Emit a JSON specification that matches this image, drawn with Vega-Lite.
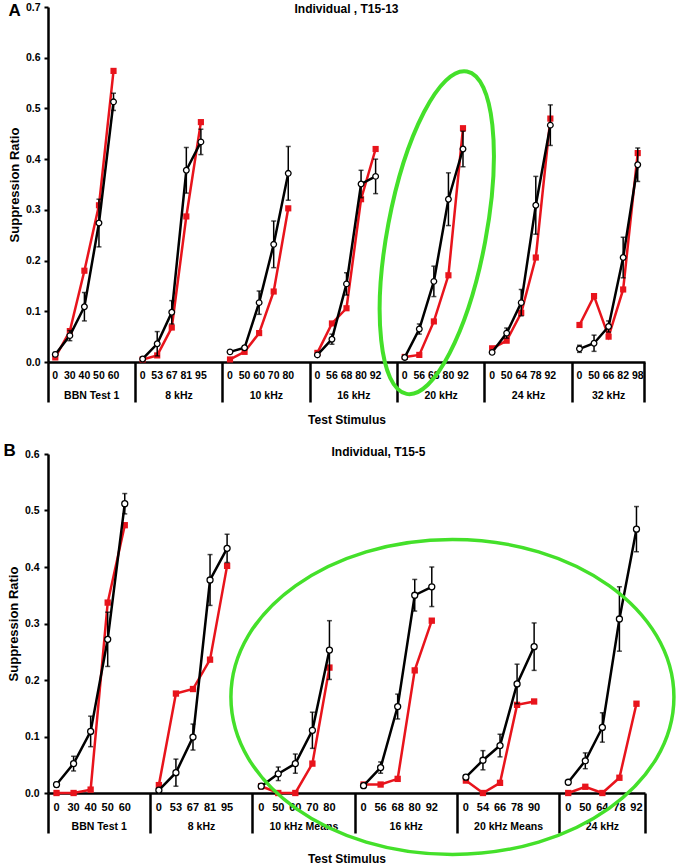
{
"$schema": "https://vega.github.io/schema/vega-lite/v6.json",
"background": "white",
"padding": {"left": 3, "top": 1, "right": 0, "bottom": 0},
"config": {"view": {"stroke": null}, "font": "Liberation Sans", "axis": {"labelFont": "Liberation Sans", "titleFont": "Liberation Sans", "grid": false}, "title": {"font": "Liberation Sans", "color": "black"}, "text": {"font": "Liberation Sans"}},
"datasets": {
"A": [
{"g":"BBN Test 1","lv":0,"s":"Group","v":0.015,"e":0.004},
{"g":"BBN Test 1","lv":30,"s":"Group","v":0.052,"e":0.01},
{"g":"BBN Test 1","lv":40,"s":"Group","v":0.109,"e":0.028},
{"g":"BBN Test 1","lv":50,"s":"Group","v":0.274,"e":0.047},
{"g":"BBN Test 1","lv":60,"s":"Group","v":0.513,"e":0.017},
{"g":"BBN Test 1","lv":0,"s":"Individual","v":0.009},
{"g":"BBN Test 1","lv":30,"s":"Individual","v":0.061},
{"g":"BBN Test 1","lv":40,"s":"Individual","v":0.18},
{"g":"BBN Test 1","lv":50,"s":"Individual","v":0.309},
{"g":"BBN Test 1","lv":60,"s":"Individual","v":0.574},
{"g":"8 kHz","lv":0,"s":"Group","v":0.006,"e":0.003},
{"g":"8 kHz","lv":53,"s":"Group","v":0.036,"e":0.024},
{"g":"8 kHz","lv":67,"s":"Group","v":0.098,"e":0.023},
{"g":"8 kHz","lv":81,"s":"Group","v":0.378,"e":0.045},
{"g":"8 kHz","lv":95,"s":"Group","v":0.434,"e":0.025},
{"g":"8 kHz","lv":0,"s":"Individual","v":0.005},
{"g":"8 kHz","lv":53,"s":"Individual","v":0.013},
{"g":"8 kHz","lv":67,"s":"Individual","v":0.068},
{"g":"8 kHz","lv":81,"s":"Individual","v":0.287},
{"g":"8 kHz","lv":95,"s":"Individual","v":0.473},
{"g":"10 kHz","lv":0,"s":"Group","v":0.02,"e":0.003},
{"g":"10 kHz","lv":50,"s":"Group","v":0.028,"e":0.004},
{"g":"10 kHz","lv":60,"s":"Group","v":0.117,"e":0.023},
{"g":"10 kHz","lv":70,"s":"Group","v":0.232,"e":0.046},
{"g":"10 kHz","lv":80,"s":"Group","v":0.372,"e":0.053},
{"g":"10 kHz","lv":0,"s":"Individual","v":0.005},
{"g":"10 kHz","lv":50,"s":"Individual","v":0.02},
{"g":"10 kHz","lv":60,"s":"Individual","v":0.057},
{"g":"10 kHz","lv":70,"s":"Individual","v":0.139},
{"g":"10 kHz","lv":80,"s":"Individual","v":0.303},
{"g":"16 kHz","lv":0,"s":"Group","v":0.014,"e":0.003},
{"g":"16 kHz","lv":56,"s":"Group","v":0.045,"e":0.01},
{"g":"16 kHz","lv":68,"s":"Group","v":0.154,"e":0.022},
{"g":"16 kHz","lv":80,"s":"Group","v":0.351,"e":0.027},
{"g":"16 kHz","lv":92,"s":"Group","v":0.366,"e":0.034},
{"g":"16 kHz","lv":0,"s":"Individual","v":0.018},
{"g":"16 kHz","lv":56,"s":"Individual","v":0.076},
{"g":"16 kHz","lv":68,"s":"Individual","v":0.106},
{"g":"16 kHz","lv":80,"s":"Individual","v":0.321},
{"g":"16 kHz","lv":92,"s":"Individual","v":0.42},
{"g":"20 kHz","lv":0,"s":"Group","v":0.009,"e":0.003},
{"g":"20 kHz","lv":56,"s":"Group","v":0.065,"e":0.01},
{"g":"20 kHz","lv":68,"s":"Group","v":0.159,"e":0.03},
{"g":"20 kHz","lv":80,"s":"Group","v":0.321,"e":0.052},
{"g":"20 kHz","lv":92,"s":"Group","v":0.42,"e":0.035},
{"g":"20 kHz","lv":0,"s":"Individual","v":0.01},
{"g":"20 kHz","lv":56,"s":"Individual","v":0.014},
{"g":"20 kHz","lv":68,"s":"Individual","v":0.08},
{"g":"20 kHz","lv":80,"s":"Individual","v":0.171},
{"g":"20 kHz","lv":92,"s":"Individual","v":0.461},
{"g":"24 kHz","lv":0,"s":"Group","v":0.019,"e":0.003},
{"g":"24 kHz","lv":50,"s":"Group","v":0.057,"e":0.01},
{"g":"24 kHz","lv":64,"s":"Group","v":0.117,"e":0.026},
{"g":"24 kHz","lv":78,"s":"Group","v":0.309,"e":0.057},
{"g":"24 kHz","lv":92,"s":"Group","v":0.467,"e":0.04},
{"g":"24 kHz","lv":0,"s":"Individual","v":0.027},
{"g":"24 kHz","lv":50,"s":"Individual","v":0.042},
{"g":"24 kHz","lv":64,"s":"Individual","v":0.097},
{"g":"24 kHz","lv":78,"s":"Individual","v":0.206},
{"g":"24 kHz","lv":92,"s":"Individual","v":0.48},
{"g":"32 kHz","lv":0,"s":"Group","v":0.026,"e":0.007},
{"g":"32 kHz","lv":50,"s":"Group","v":0.037,"e":0.016},
{"g":"32 kHz","lv":66,"s":"Group","v":0.07,"e":0.011},
{"g":"32 kHz","lv":82,"s":"Group","v":0.206,"e":0.04},
{"g":"32 kHz","lv":98,"s":"Group","v":0.389,"e":0.033},
{"g":"32 kHz","lv":0,"s":"Individual","v":0.073},
{"g":"32 kHz","lv":50,"s":"Individual","v":0.13},
{"g":"32 kHz","lv":66,"s":"Individual","v":0.05},
{"g":"32 kHz","lv":82,"s":"Individual","v":0.143},
{"g":"32 kHz","lv":98,"s":"Individual","v":0.412}
],
"B": [
{"g":"BBN Test 1","lv":0,"s":"Group","v":0.015,"e":0.004},
{"g":"BBN Test 1","lv":30,"s":"Group","v":0.052,"e":0.013},
{"g":"BBN Test 1","lv":40,"s":"Group","v":0.109,"e":0.027},
{"g":"BBN Test 1","lv":50,"s":"Group","v":0.272,"e":0.048},
{"g":"BBN Test 1","lv":60,"s":"Group","v":0.512,"e":0.018},
{"g":"BBN Test 1","lv":0,"s":"Individual","v":0.0},
{"g":"BBN Test 1","lv":30,"s":"Individual","v":0.0},
{"g":"BBN Test 1","lv":40,"s":"Individual","v":0.006},
{"g":"BBN Test 1","lv":50,"s":"Individual","v":0.337},
{"g":"BBN Test 1","lv":60,"s":"Individual","v":0.474},
{"g":"8 kHz","lv":0,"s":"Group","v":0.005,"e":0.003},
{"g":"8 kHz","lv":53,"s":"Group","v":0.036,"e":0.024},
{"g":"8 kHz","lv":67,"s":"Group","v":0.099,"e":0.023},
{"g":"8 kHz","lv":81,"s":"Group","v":0.377,"e":0.045},
{"g":"8 kHz","lv":95,"s":"Group","v":0.433,"e":0.025},
{"g":"8 kHz","lv":0,"s":"Individual","v":0.014},
{"g":"8 kHz","lv":53,"s":"Individual","v":0.176},
{"g":"8 kHz","lv":67,"s":"Individual","v":0.184},
{"g":"8 kHz","lv":81,"s":"Individual","v":0.236},
{"g":"8 kHz","lv":95,"s":"Individual","v":0.402},
{"g":"10 kHz Means","lv":0,"s":"Group","v":0.012,"e":0.003},
{"g":"10 kHz Means","lv":50,"s":"Group","v":0.034,"e":0.012},
{"g":"10 kHz Means","lv":60,"s":"Group","v":0.052,"e":0.017},
{"g":"10 kHz Means","lv":70,"s":"Group","v":0.111,"e":0.032},
{"g":"10 kHz Means","lv":80,"s":"Group","v":0.253,"e":0.052},
{"g":"10 kHz Means","lv":0,"s":"Individual","v":0.012},
{"g":"10 kHz Means","lv":50,"s":"Individual","v":0.0},
{"g":"10 kHz Means","lv":60,"s":"Individual","v":0.0},
{"g":"10 kHz Means","lv":70,"s":"Individual","v":0.052},
{"g":"10 kHz Means","lv":80,"s":"Individual","v":0.222},
{"g":"16 kHz","lv":0,"s":"Group","v":0.013,"e":0.003},
{"g":"16 kHz","lv":56,"s":"Group","v":0.045,"e":0.01},
{"g":"16 kHz","lv":68,"s":"Group","v":0.153,"e":0.022},
{"g":"16 kHz","lv":80,"s":"Group","v":0.35,"e":0.028},
{"g":"16 kHz","lv":92,"s":"Group","v":0.365,"e":0.035},
{"g":"16 kHz","lv":0,"s":"Individual","v":0.015},
{"g":"16 kHz","lv":56,"s":"Individual","v":0.015},
{"g":"16 kHz","lv":68,"s":"Individual","v":0.025},
{"g":"16 kHz","lv":80,"s":"Individual","v":0.217},
{"g":"16 kHz","lv":92,"s":"Individual","v":0.305},
{"g":"20 kHz Means","lv":0,"s":"Group","v":0.028,"e":0.004},
{"g":"20 kHz Means","lv":54,"s":"Group","v":0.058,"e":0.017},
{"g":"20 kHz Means","lv":66,"s":"Group","v":0.084,"e":0.02},
{"g":"20 kHz Means","lv":78,"s":"Group","v":0.193,"e":0.035},
{"g":"20 kHz Means","lv":90,"s":"Group","v":0.259,"e":0.042},
{"g":"20 kHz Means","lv":0,"s":"Individual","v":0.022},
{"g":"20 kHz Means","lv":54,"s":"Individual","v":0.0},
{"g":"20 kHz Means","lv":66,"s":"Individual","v":0.018},
{"g":"20 kHz Means","lv":78,"s":"Individual","v":0.156},
{"g":"20 kHz Means","lv":90,"s":"Individual","v":0.162},
{"g":"24 kHz","lv":0,"s":"Group","v":0.019,"e":0.003},
{"g":"24 kHz","lv":50,"s":"Group","v":0.057,"e":0.014},
{"g":"24 kHz","lv":64,"s":"Group","v":0.116,"e":0.026},
{"g":"24 kHz","lv":78,"s":"Group","v":0.308,"e":0.057},
{"g":"24 kHz","lv":92,"s":"Group","v":0.467,"e":0.04},
{"g":"24 kHz","lv":0,"s":"Individual","v":0.0},
{"g":"24 kHz","lv":50,"s":"Individual","v":0.011},
{"g":"24 kHz","lv":64,"s":"Individual","v":0.0},
{"g":"24 kHz","lv":78,"s":"Individual","v":0.027},
{"g":"24 kHz","lv":92,"s":"Individual","v":0.158}
]
},
"spacing": 16,
"align": "none",
"vconcat": [
{
"title": {"text": "A", "anchor": "start", "frame": "bounds", "fontSize": 17, "fontWeight": "bold", "offset": -17.5},
"vconcat": [{
"data": {"name": "A"},
"transform": [{"calculate": "datum.g + '|' + datum.lv", "as": "key"}],
"width": 597, "height": 355,
"title": {"text": "Individual , T15-13", "fontSize": 12, "fontWeight": "bold", "anchor": "middle", "offset": -14},
"encoding": {
"x": {"field": "key", "type": "nominal",
"scale": {"paddingInner": 0, "paddingOuter": 0, "domain": ["BBN Test 1|0","BBN Test 1|30","BBN Test 1|40","BBN Test 1|50","BBN Test 1|60","BBN Test 1|gap","8 kHz|0","8 kHz|53","8 kHz|67","8 kHz|81","8 kHz|95","8 kHz|gap","10 kHz|0","10 kHz|50","10 kHz|60","10 kHz|70","10 kHz|80","10 kHz|gap","16 kHz|0","16 kHz|56","16 kHz|68","16 kHz|80","16 kHz|92","16 kHz|gap","20 kHz|0","20 kHz|56","20 kHz|68","20 kHz|80","20 kHz|92","20 kHz|gap","24 kHz|0","24 kHz|50","24 kHz|64","24 kHz|78","24 kHz|92","24 kHz|gap","32 kHz|0","32 kHz|50","32 kHz|66","32 kHz|82","32 kHz|98"]},
"axis": {"title": "Test Stimulus", "titleFontSize": 12, "titleFontWeight": "bold", "titlePadding": 11, "titleColor": "black",
"bandPosition": 1, "tickExtra": true, "tickSize": 40, "tickWidth": 2.5,
"tickColor": {"condition": {"test": "!isValid(datum.value) || indexof(datum.value, 'gap') >= 0 || datum.value === '32 kHz|98'", "value": "black"}, "value": "transparent"},
"labelExpr": "isValid(datum.value) && indexof(datum.value, 'gap') < 0 ? split(datum.value, '|')[1] : ''",
"labelOffset": 0, "labelPadding": -32, "labelAngle": 0, "labelFontSize": 10.5, "labelFontWeight": "bold", "labelColor": "black", "labelOverlap": false, "labelBound": false, "labelFlush": false,
"domainColor": "black", "domainWidth": 2.5}},
"y": {"field": "v", "type": "quantitative",
"scale": {"domain": [0, 0.7], "nice": false},
"axis": {"title": "Suppression Ratio", "titleFontSize": 13, "titleFontWeight": "bold", "titleColor": "black", "titlePadding": 4, "values": [0,0.1,0.2,0.3,0.4,0.5,0.6,0.7], "format": ".1f", "labelFontSize": 10.5, "labelFontWeight": "bold", "labelColor": "black", "labelPadding": 4, "tickSize": 4, "tickWidth": 2, "tickColor": "black", "domainColor": "black", "domainWidth": 2.5}}
},
"layer": [
{"transform": [{"filter": "datum.s === 'Individual'"}], "mark": {"type": "line", "color": "#e8141c", "strokeWidth": 2.5}, "encoding": {"detail": {"field": "g"}, "order": {"field": "lv", "type": "quantitative"}}},
{"transform": [{"filter": "datum.s === 'Individual'"}], "mark": {"type": "point", "shape": "square", "filled": true, "color": "#e8141c", "size": 38, "opacity": 1}},
{"transform": [{"filter": "datum.s === 'Group'"}], "mark": {"type": "line", "color": "black", "strokeWidth": 2.5}, "encoding": {"detail": {"field": "g"}, "order": {"field": "lv", "type": "quantitative"}}},
{"transform": [{"filter": "datum.s === 'Group'"}], "mark": {"type": "errorbar", "color": "black", "thickness": 1.5, "ticks": {"size": 5, "thickness": 1.5, "color": "black"}}, "encoding": {"yError": {"field": "e"}}},
{"transform": [{"filter": "datum.s === 'Group'"}], "mark": {"type": "point", "shape": "circle", "filled": true, "fill": "white", "stroke": "black", "strokeWidth": 1.3, "size": 32, "opacity": 1}},
{"transform": [{"filter": "datum.s === 'Group'"}, {"window": [{"op": "row_number", "as": "r"}], "groupby": ["g"], "sort": [{"field": "lv"}]}, {"filter": "datum.r === 3 && datum.g !== '32 kHz'"}],
 "mark": {"type": "text", "fontSize": 10.5, "fontWeight": "bold", "color": "black", "dy": 34, "xOffset": 7.28, "baseline": "middle"},
 "encoding": {"y": {"datum": 0}, "text": {"field": "g"}}},
{"transform": [{"filter": "datum.s === 'Group'"}, {"window": [{"op": "row_number", "as": "r"}], "groupby": ["g"], "sort": [{"field": "lv"}]}, {"filter": "datum.r === 3 && datum.g === '32 kHz'"}],
 "mark": {"type": "text", "fontSize": 10.5, "fontWeight": "bold", "color": "black", "dy": 34, "baseline": "middle"},
 "encoding": {"y": {"datum": 0}, "text": {"field": "g"}}},
{"transform": [{"filter": "datum.s === 'Group' && datum.g === '20 kHz' && datum.lv === 68"}],
 "mark": {"type": "point", "shape": "M0.184,-0.983 C0.347,-0.953 0.397,-0.488 0.295,0.055 C0.193,0.598 -0.021,1.014 -0.184,0.983 C-0.347,0.953 -0.397,0.488 -0.295,-0.055 C-0.193,-0.598 0.021,-1.014 0.184,-0.983 Z", "size": 107584, "filled": false, "stroke": "#44e02a", "strokeWidth": 4, "opacity": 1},
 "encoding": {"x": {"datum": "20 kHz|68", "bandPosition": 0.7}, "y": {"datum": 0.255}}}
]
}]
},
{
"title": {"text": "B", "anchor": "start", "frame": "bounds", "fontSize": 17, "fontWeight": "bold", "offset": -14, "dx": -4},
"vconcat": [{
"data": {"name": "B"},
"transform": [{"calculate": "datum.g + '|' + datum.lv", "as": "key"}],
"width": 597, "height": 339,
"title": {"text": "Individual, T15-5", "fontSize": 12, "fontWeight": "bold", "anchor": "middle", "offset": -10, "dx": 32},
"encoding": {
"x": {"field": "key", "type": "nominal",
"scale": {"paddingInner": 0, "paddingOuter": 0, "domain": ["BBN Test 1|0","BBN Test 1|30","BBN Test 1|40","BBN Test 1|50","BBN Test 1|60","BBN Test 1|gap","8 kHz|0","8 kHz|53","8 kHz|67","8 kHz|81","8 kHz|95","8 kHz|gap","10 kHz Means|0","10 kHz Means|50","10 kHz Means|60","10 kHz Means|70","10 kHz Means|80","10 kHz Means|gap","16 kHz|0","16 kHz|56","16 kHz|68","16 kHz|80","16 kHz|92","16 kHz|gap","20 kHz Means|0","20 kHz Means|54","20 kHz Means|66","20 kHz Means|78","20 kHz Means|90","20 kHz Means|gap","24 kHz|0","24 kHz|50","24 kHz|64","24 kHz|78","24 kHz|92"]},
"axis": {"title": "Test Stimulus", "titleFontSize": 12, "titleFontWeight": "bold", "titlePadding": 19, "titleColor": "black",
"bandPosition": 1, "tickExtra": true, "tickSize": 40, "tickWidth": 2.5,
"tickColor": {"condition": {"test": "!isValid(datum.value) || indexof(datum.value, 'gap') >= 0 || datum.value === '24 kHz|92'", "value": "black"}, "value": "transparent"},
"labelExpr": "isValid(datum.value) && indexof(datum.value, 'gap') < 0 ? split(datum.value, '|')[1] : ''",
"labelOffset": 0, "labelPadding": -32, "labelAngle": 0, "labelFontSize": 11, "labelFontWeight": "bold", "labelColor": "black", "labelOverlap": false, "labelBound": false, "labelFlush": false,
"domainColor": "black", "domainWidth": 2.5}},
"y": {"field": "v", "type": "quantitative",
"scale": {"domain": [0, 0.6], "nice": false},
"axis": {"title": "Suppression Ratio", "titleFontSize": 13, "titleFontWeight": "bold", "titleColor": "black", "titlePadding": 4, "values": [0,0.1,0.2,0.3,0.4,0.5,0.6], "format": ".1f", "labelFontSize": 10.5, "labelFontWeight": "bold", "labelColor": "black", "labelPadding": 5, "tickSize": 4, "tickWidth": 2, "tickColor": "black", "domainColor": "black", "domainWidth": 2.5}}
},
"layer": [
{"transform": [{"filter": "datum.s === 'Individual'"}], "mark": {"type": "line", "color": "#e8141c", "strokeWidth": 2.5}, "encoding": {"detail": {"field": "g"}, "order": {"field": "lv", "type": "quantitative"}}},
{"transform": [{"filter": "datum.s === 'Individual'"}], "mark": {"type": "point", "shape": "square", "filled": true, "color": "#e8141c", "size": 40, "opacity": 1}},
{"transform": [{"filter": "datum.s === 'Group'"}], "mark": {"type": "line", "color": "black", "strokeWidth": 2.5}, "encoding": {"detail": {"field": "g"}, "order": {"field": "lv", "type": "quantitative"}}},
{"transform": [{"filter": "datum.s === 'Group'"}], "mark": {"type": "errorbar", "color": "black", "thickness": 1.5, "ticks": {"size": 5, "thickness": 1.5, "color": "black"}}, "encoding": {"yError": {"field": "e"}}},
{"transform": [{"filter": "datum.s === 'Group'"}], "mark": {"type": "point", "shape": "circle", "filled": true, "fill": "white", "stroke": "black", "strokeWidth": 1.3, "size": 36, "opacity": 1}},
{"transform": [{"filter": "datum.s === 'Group'"}, {"window": [{"op": "row_number", "as": "r"}], "groupby": ["g"], "sort": [{"field": "lv"}]}, {"filter": "datum.r === 3 && datum.g !== '24 kHz'"}],
 "mark": {"type": "text", "fontSize": 10.5, "fontWeight": "bold", "color": "black", "dy": 34, "xOffset": 8.53, "baseline": "middle"},
 "encoding": {"y": {"datum": 0}, "text": {"field": "g"}}},
{"transform": [{"filter": "datum.s === 'Group'"}, {"window": [{"op": "row_number", "as": "r"}], "groupby": ["g"], "sort": [{"field": "lv"}]}, {"filter": "datum.r === 3 && datum.g === '24 kHz'"}],
 "mark": {"type": "text", "fontSize": 10.5, "fontWeight": "bold", "color": "black", "dy": 34, "baseline": "middle"},
 "encoding": {"y": {"datum": 0}, "text": {"field": "g"}}},
{"transform": [{"filter": "datum.s === 'Group' && datum.g === '16 kHz' && datum.lv === 92"}],
 "mark": {"type": "point", "shape": "M1,0 C1,0.393 0.5523,0.711 0,0.711 C-0.5523,0.711 -1,0.393 -1,0 C-1,-0.393 -0.5523,-0.711 0,-0.711 C0.5523,-0.711 1,-0.393 1,0 Z", "size": 196249, "filled": false, "stroke": "#44e02a", "strokeWidth": 3.5, "opacity": 1},
 "encoding": {"x": {"datum": "16 kHz|gap", "bandPosition": 0.71}, "y": {"datum": 0.17}}}
]
}]
}
]
}
